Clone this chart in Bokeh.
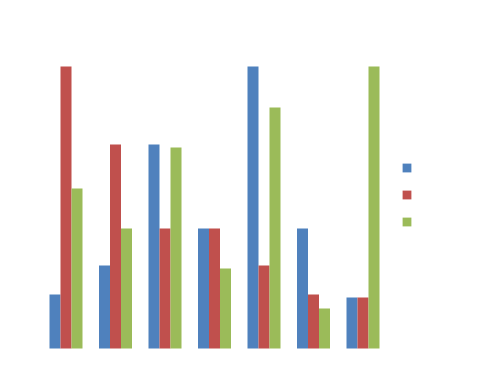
from bokeh.plotting import figure
from bokeh.models import ColumnDataSource, Range1d, Legend, LegendItem
from bokeh.transform import dodge
from bokeh.embed import file_html
from bokeh.resources import INLINE

groups = [0, 1, 2, 3, 4, 5, 6]
series_a = [54, 83, 204, 120, 282, 120, 51]
series_b = [282, 204, 120, 120, 83, 54, 51]
series_c = [160, 120, 201, 80, 241, 40, 282]

colors = ["#4F81BD", "#C0504D", "#9BBB59"]

src = ColumnDataSource(dict(x=groups, a=series_a, b=series_b, c=series_c))

p = figure(width=483, height=390, output_backend="svg", toolbar_location=None,
           x_axis_type=None, y_axis_type=None, min_border=0,
           x_range=Range1d(-65.5 / 49.5, (483 - 65.5) / 49.5),
           y_range=Range1d(-42, 348))
p.grid.visible = False
p.outline_line_color = None
p.background_fill_color = "white"

w = 11 / 49.5
ra = p.vbar(x=dodge("x", -w, range=p.x_range), top="a", bottom=0, width=w, source=src,
            fill_color=colors[0], line_color=None)
rb = p.vbar(x=dodge("x", 0, range=p.x_range), top="b", bottom=0, width=w, source=src,
            fill_color=colors[1], line_color=None)
rc = p.vbar(x=dodge("x", w, range=p.x_range), top="c", bottom=0, width=w, source=src,
            fill_color=colors[2], line_color=None)

legend = Legend(items=[LegendItem(label=" ", renderers=[ra]),
                       LegendItem(label=" ", renderers=[rb]),
                       LegendItem(label=" ", renderers=[rc])],
                location=(401, 163), glyph_width=11, glyph_height=11,
                label_height=11, label_width=0, label_standoff=0,
                label_text_font_size="1px", spacing=16, padding=0, margin=0,
                border_line_color=None, background_fill_alpha=0)
p.add_layout(legend)

open("out.html", "w").write(file_html(p, INLINE))
